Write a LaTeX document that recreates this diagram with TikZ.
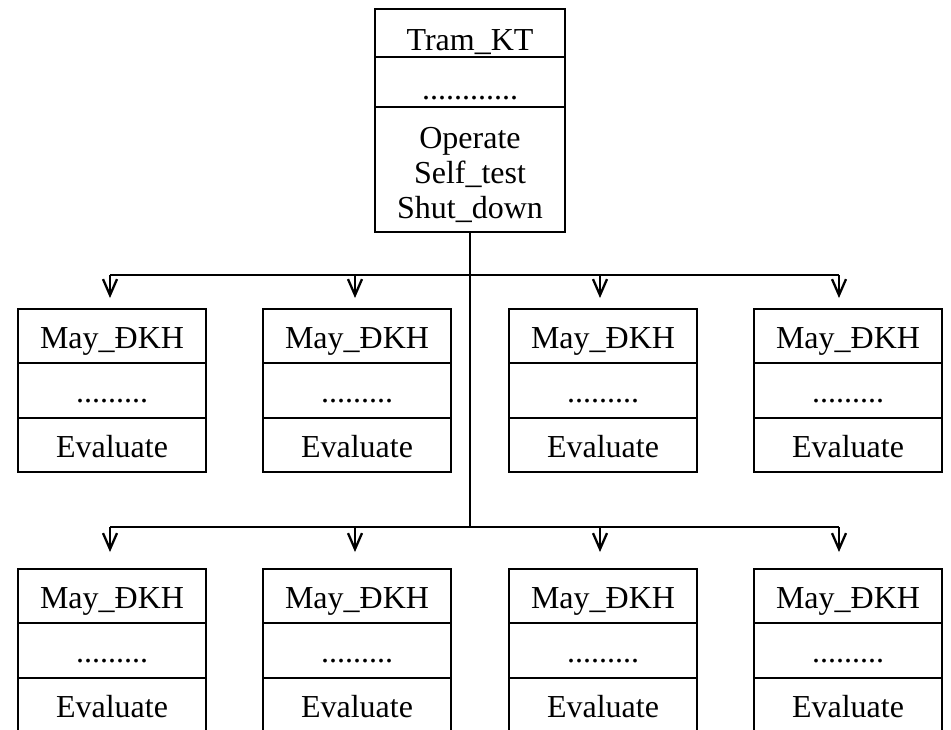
\documentclass[tikz,border=0pt]{standalone}
\usepackage{fontspec}
\setmainfont{Liberation Serif}
\usetikzlibrary{positioning}
\usetikzlibrary{arrows.meta}

\tikzset{
	cell/.style={draw, line width=2.5pt, inner sep=0pt, outer sep=0pt, minimum width=188pt, text height=27pt, text depth=3pt},
	topcell/.style={cell, minimum width=190pt, text height=34pt, text depth=0pt},
	opscell/.style={draw, line width=2.5pt, inner sep=0pt, outer sep=0pt, minimum width=190pt, align=center},
	conn/.style={line width=1.8pt},
	arr/.style={conn, -{Straight Barb[length=16pt, width=14pt, line width=2.3pt]}}
}

\begin{document}
\begin{tikzpicture}[x=1pt, y=-1pt, font=\fontsize{32}{35}\selectfont]
		\useasboundingbox (0,0) rectangle (951,729);
		
		% lop Tram_KT
		\node[topcell, minimum height=48pt] (T1) at (470,33) {Tram\_KT};
		\node[topcell, minimum height=50pt, below = 0pt of T1] (T2) {............};
		\node[opscell, minimum height=125pt, below = 0pt of T2] (T3) {\rule{0pt}{32pt}Operate\\Self\_test\\Shut\_down};
		
		% hang 1
		\node[cell, minimum height=54pt] (A1) at (112,336) {May\_ĐKH};
		\node[cell, minimum height=55pt, below = 0pt of A1] (A2) {.........};
		\node[cell, minimum height=54pt, below = 0pt of A2] (A3) {Evaluate};
		
		\node[cell, minimum height=54pt] (B1) at (357,336) {May\_ĐKH};
		\node[cell, minimum height=55pt, below = 0pt of B1] (B2) {.........};
		\node[cell, minimum height=54pt, below = 0pt of B2] (B3) {Evaluate};
		
		\node[cell, minimum height=54pt] (C1) at (603,336) {May\_ĐKH};
		\node[cell, minimum height=55pt, below = 0pt of C1] (C2) {.........};
		\node[cell, minimum height=54pt, below = 0pt of C2] (C3) {Evaluate};
		
		\node[cell, minimum height=54pt] (D1) at (848,336) {May\_ĐKH};
		\node[cell, minimum height=55pt, below = 0pt of D1] (D2) {.........};
		\node[cell, minimum height=54pt, below = 0pt of D2] (D3) {Evaluate};
		
		% hang 2
		\node[cell, minimum height=54pt] (E1) at (112,596) {May\_ĐKH};
		\node[cell, minimum height=55pt, below = 0pt of E1] (E2) {.........};
		\node[cell, minimum height=54pt, below = 0pt of E2] (E3) {Evaluate};
		
		\node[cell, minimum height=54pt] (F1) at (357,596) {May\_ĐKH};
		\node[cell, minimum height=55pt, below = 0pt of F1] (F2) {.........};
		\node[cell, minimum height=54pt, below = 0pt of F2] (F3) {Evaluate};
		
		\node[cell, minimum height=54pt] (G1) at (603,596) {May\_ĐKH};
		\node[cell, minimum height=55pt, below = 0pt of G1] (G2) {.........};
		\node[cell, minimum height=54pt, below = 0pt of G2] (G3) {Evaluate};
		
		\node[cell, minimum height=54pt] (H1) at (848,596) {May\_ĐKH};
		\node[cell, minimum height=55pt, below = 0pt of H1] (H2) {.........};
		\node[cell, minimum height=54pt, below = 0pt of H2] (H3) {Evaluate};
		
		% duong noi
		\coordinate (h1) at (470,275);
		\coordinate (h2) at (470,527);
		\coordinate (ta) at (110,298);
		\coordinate (tb) at (355,298);
		\coordinate (tc) at (600,298);
		\coordinate (td) at (839,298);
		\coordinate (te) at (110,552);
		\coordinate (tf) at (355,552);
		\coordinate (tg) at (600,552);
		\coordinate (th) at (839,552);
		
		\draw[conn] (T3.south) -- (h2);
		\draw[conn] (h1 -| ta) -- (h1 -| td);
		\draw[conn] (h2 -| te) -- (h2 -| th);
		
		\draw[arr] (h1 -| ta) -- (ta);
		\draw[arr] (h1 -| tb) -- (tb);
		\draw[arr] (h1 -| tc) -- (tc);
		\draw[arr] (h1 -| td) -- (td);
		
		\draw[arr] (h2 -| te) -- (te);
		\draw[arr] (h2 -| tf) -- (tf);
		\draw[arr] (h2 -| tg) -- (tg);
		\draw[arr] (h2 -| th) -- (th);
	\end{tikzpicture}
\end{document}
